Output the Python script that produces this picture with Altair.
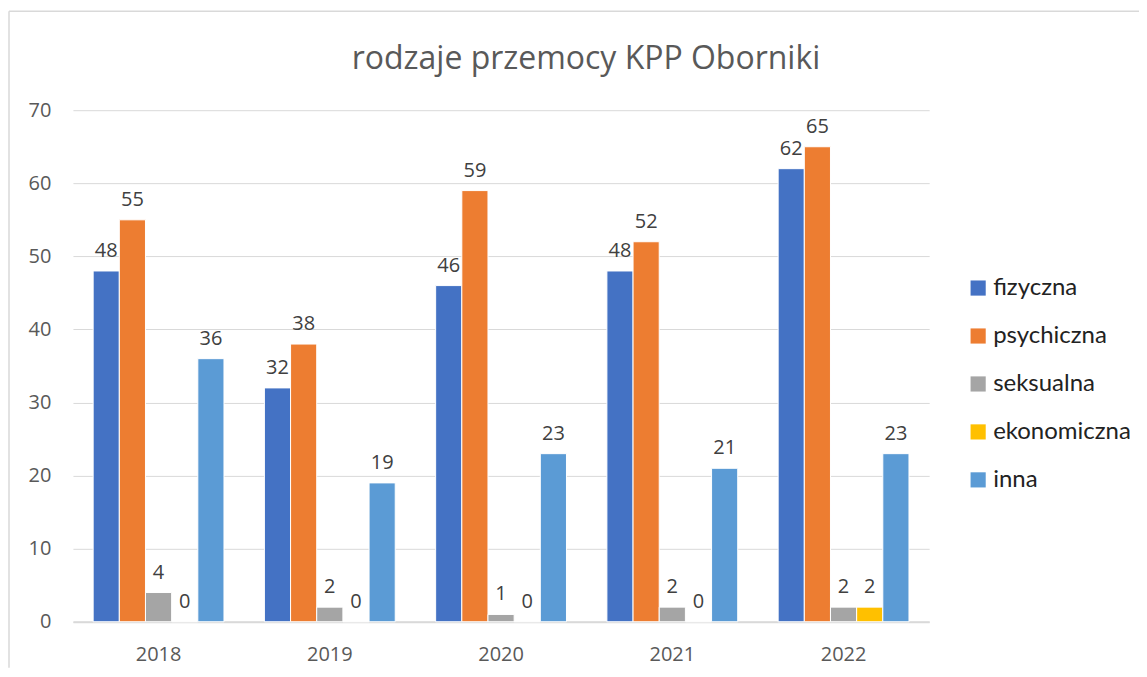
import altair as alt
import pandas as pd

years = ["2018", "2019", "2020", "2021", "2022"]
series = ["fizyczna", "psychiczna", "seksualna", "ekonomiczna", "inna"]
fizyczna = [48, 32, 46, 48, 62]
psychiczna = [55, 38, 59, 52, 65]
seksualna = [4, 2, 1, 2, 2]
ekonomiczna = [0, 0, 0, 0, 2]
inna = [36, 19, 23, 21, 23]
colors = ["#4472C4", "#ED7D31", "#A5A5A5", "#FFC000", "#5B9BD5"]
y_ticks = [0, 10, 20, 30, 40, 50, 60, 70]

values = {"fizyczna": fizyczna, "psychiczna": psychiczna, "seksualna": seksualna,
          "ekonomiczna": ekonomiczna, "inna": inna}
rows = []
for s in series:
    for yr, v in zip(years, values[s]):
        rows.append({"rok": yr, "rodzaj": s, "liczba": v})
df = pd.DataFrame(rows)

FONT = "Open Sans"
W, H = 857, 512

x_enc = alt.X("rok:N", sort=years, title=None,
              scale=alt.Scale(paddingInner=0.236, paddingOuter=0.118),
              axis=alt.Axis(labelAngle=0, labelFontSize=20, labelColor="#595959", labelFont=FONT,
                            ticks=False, domainColor="#d9d9d9", domainWidth=2, labelPadding=23,
                            grid=False))
xoff = alt.XOffset("rodzaj:N", sort=series, scale=alt.Scale(paddingInner=0, paddingOuter=0))
y_enc = alt.Y("liczba:Q", title=None,
              scale=alt.Scale(domain=[0, 70], nice=False),
              axis=alt.Axis(values=y_ticks, labelFontSize=20, labelColor="#595959", labelFont=FONT,
                            ticks=False, domain=False, gridColor="#d9d9d9", gridWidth=1,
                            labelPadding=22))
color_enc = alt.Color("rodzaj:N", sort=series,
                      scale=alt.Scale(domain=series, range=colors),
                      legend=alt.Legend(title=None, orient="none", legendX=894, legendY=166,
                                        symbolType="square", symbolSize=230, symbolStrokeWidth=0,
                                        labelFontSize=24, labelFont="Lato", labelColor="#222222",
                                        rowPadding=24, labelOffset=3))

bars = alt.Chart(df).mark_bar(stroke="white", strokeWidth=1).encode(
    x=x_enc, xOffset=xoff, y=y_enc, color=color_enc
)
labels = alt.Chart(df).mark_text(dy=-20, fontSize=20, font=FONT, color="#404040").encode(
    x=alt.X("rok:N", sort=years), xOffset=alt.XOffset("rodzaj:N", sort=series),
    y="liczba:Q", text="liczba:Q"
)
frame_top = alt.Chart(pd.DataFrame({"a": [0]})).mark_rule(
    stroke="#d9d9d9", strokeWidth=1.5
).encode(x=alt.value(-64), x2=alt.value(1068), y=alt.value(-99))
frame_left = alt.Chart(pd.DataFrame({"a": [0]})).mark_rule(
    stroke="#d9d9d9", strokeWidth=1.5
).encode(x=alt.value(-64), y=alt.value(-99), y2=alt.value(558))

chart = alt.layer(frame_top, frame_left, bars, labels).properties(
    width=W, height=H,
    title=alt.TitleParams("rodzaje przemocy KPP Oborniki", fontSize=32, font=FONT,
                          fontWeight="normal", color="#595959", dx=85, offset=-66, anchor="middle"),
    autosize=alt.AutoSizeParams(type="none"),
    padding={"left": 65, "top": 102, "right": 210, "bottom": 50},
).configure(background="white").configure_view(stroke=None)

chart.save("out.html", embed_options={"renderer": "svg", "actions": False})
